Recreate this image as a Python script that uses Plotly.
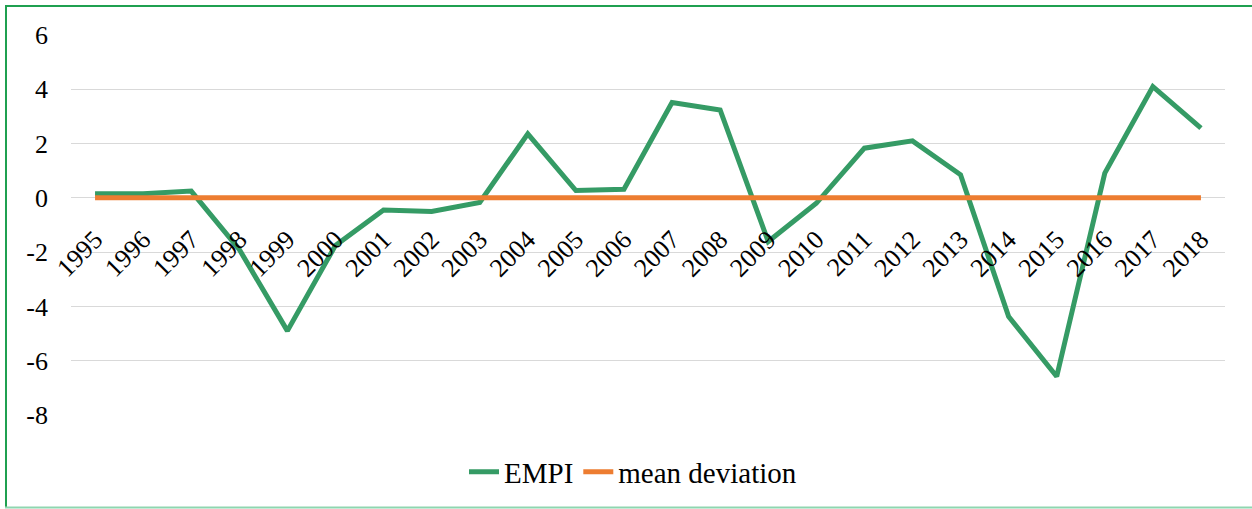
import plotly.graph_objects as go

years = [str(y) for y in range(1995, 2019)]
empi = [0.15, 0.15, 0.25, -1.9, -4.9, -1.75, -0.45, -0.5, -0.17, 2.36, 0.27, 0.32,
        3.51, 3.24, -1.61, -0.2, 1.83, 2.1, 0.85, -4.37, -6.58, 0.91, 4.1, 2.57]
mean_dev = [0.0] * len(years)
y_ticks = [-8, -6, -4, -2, 0, 2, 4, 6]
y_tick_labels = ["-8", "-6", "-4", "-2", "0", "2", "4", "6"]

W, H = 1252, 509
L, R, T, B = 71, 1225, 35, 415
pw, ph = R - L, B - T

def px_x(x):
    return (x - L) / pw

def px_y(y):
    return (B - y) / ph

font_fam = "Liberation Serif"
fig = go.Figure()
fig.add_trace(go.Scatter(x=years, y=empi, mode="lines", name="EMPI",
                         line=dict(color="#359B65", width=5)))
fig.add_trace(go.Scatter(x=years, y=mean_dev, mode="lines", name="mean deviation",
                         line=dict(color="#ED7D31", width=5)))

fig.update_layout(
    width=W, height=H,
    margin=dict(l=L, r=W - R, t=T, b=H - B, autoexpand=False),
    paper_bgcolor="white", plot_bgcolor="white",
    font=dict(family=font_fam, size=26, color="black"),
    showlegend=True,
    legend=dict(orientation="h", x=px_x(633), xanchor="center", y=px_y(472), yanchor="middle",
                font=dict(family=font_fam, size=29), tracegroupgap=0),
    xaxis=dict(type="category", range=[-0.5, 23.5], tickangle=-45,
               showgrid=False, showline=False, ticks="", zeroline=False,
               anchor="free", position=px_y(198.2), ticklabelstandoff=20,
               automargin=False, tickfont=dict(family=font_fam, size=26)),
    yaxis=dict(range=[-8, 6], tickmode="array", tickvals=y_ticks, ticktext=y_tick_labels,
               showgrid=True, gridcolor="#d9d9d9",
               gridwidth=1.3, zeroline=False, showline=False, ticks="",
               ticklabelstandoff=22, automargin=False,
               tickfont=dict(family=font_fam, size=26)),
    shapes=[
        dict(type="line", xref="paper", yref="paper", x0=px_x(6), x1=px_x(6),
             y0=px_y(508), y1=px_y(6), line=dict(color="#1FA050", width=2)),
        dict(type="line", xref="paper", yref="paper", x0=px_x(5), x1=px_x(1260),
             y0=px_y(6), y1=px_y(6), line=dict(color="#1FA050", width=2)),
        dict(type="line", xref="paper", yref="paper", x0=px_x(5), x1=px_x(1260),
             y0=px_y(507.5), y1=px_y(507.5), line=dict(color="#8FD6B0", width=2)),
    ],
)

fig.write_html("out.html", config={"displayModeBar": False},
               post_script="document.body.style.margin='0';document.body.style.overflow='hidden';")
